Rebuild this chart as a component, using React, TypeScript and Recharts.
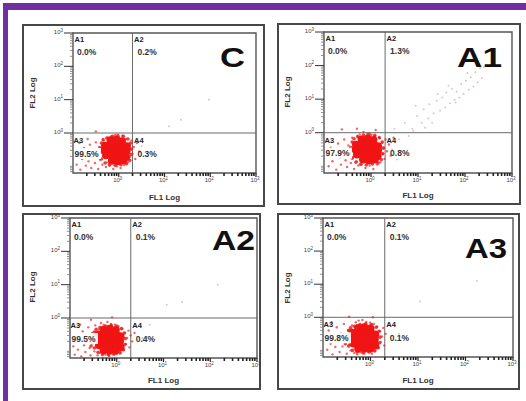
import { ScatterChart, Scatter, XAxis, YAxis, ReferenceLine, ReferenceArea } from 'recharts';

type Pt = [number, number];

// all positions are log10 of fluorescence (FL1 on x, FL2 on y)
const panelTitles = ['C', 'A1', 'A2', 'A3'];
const quadrantNames = ['A1', 'A2', 'A3', 'A4'];
const quadrantPercents = [
  ['0.0%', '0.2%', '99.5%', '0.3%'],
  ['0.0%', '1.3%', '97.9%', '0.8%'],
  ['0.0%', '0.1%', '99.5%', '0.4%'],
  ['0.0%', '0.1%', '99.8%', '0.1%'],
];
const decadeTicks = [0, 1, 2, 3];
const minorSteps = [2, 3, 4, 5, 6, 7, 8, 9];

const X_DOMAIN = [-1, 3];
const Y_DOMAIN = [-1.2, 3];
const GATE_X = 0.3;
const GATE_Y = 0;

// --- panel C ---
const coreC: Pt[] = [
  [-0.18, -0.22], [-0.05, -0.2], [0.07, -0.25],
  [-0.3, -0.38], [-0.17, -0.36], [-0.05, -0.35], [0.08, -0.38], [0.18, -0.4],
  [-0.32, -0.52], [-0.2, -0.5], [-0.07, -0.5], [0.06, -0.52], [0.17, -0.55],
  [-0.28, -0.67], [-0.16, -0.66], [-0.04, -0.68], [0.08, -0.67], [0.16, -0.72],
  [-0.15, -0.83], [-0.02, -0.85], [0.1, -0.82],
];
const fringeC: Pt[] = [
  [-0.38, -0.3], [-0.4, -0.45], [-0.42, -0.6], [-0.38, -0.78], [-0.3, -0.9], [-0.2, -0.95],
  [-0.08, -0.97], [0.05, -0.95], [0.17, -0.92], [0.24, -0.82], [0.27, -0.65], [0.28, -0.48],
  [0.26, -0.3], [0.2, -0.18], [0.1, -0.1], [-0.02, -0.08], [-0.14, -0.1], [-0.26, -0.15],
  [-0.34, -0.2], [-0.45, -0.7],
];
const haloC: Pt[] = [
  [-0.92, -0.95], [-0.88, -0.62], [-0.84, -1.1], [-0.8, -0.78], [-0.76, -0.45], [-0.72, -0.98],
  [-0.7, -0.62], [-0.66, -0.85], [-0.63, -0.35], [-0.6, -1.05], [-0.58, -0.72], [-0.55, -0.52],
  [-0.52, -0.9], [-0.5, -0.28], [-0.48, -0.66], [-0.45, -1.08], [-0.43, -0.42], [-0.41, -0.8],
  [-0.38, -0.58], [-0.36, -0.95], [-0.34, -0.22], [-0.32, -0.72], [-0.3, -0.38], [-0.28, -1.02],
  [-0.26, -0.88], [-0.24, -0.14], [-0.2, -0.98], [-0.16, -0.1], [-0.12, -1.08], [-0.08, -0.06],
  [-0.04, -1.0], [0.0, -0.12], [0.04, -1.05], [0.08, -0.08], [0.12, -0.96], [0.16, -0.18],
  [0.2, -0.88], [0.22, -0.35], [0.24, -0.72], [0.26, -0.5], [0.28, -0.22], [0.3, -0.62],
  [0.33, -0.42], [0.36, -0.78], [0.4, -0.3], [-0.86, -0.3], [-0.68, -0.18], [-0.5, 0.05], [0.45, -0.55],
];
const sparseC: Pt[] = [[1.36, 0.4], [1.97, 1.0], [0.5, -0.4], [0.6, -0.7], [1.1, 0.2]];

// --- panel A1 ---
const coreA1: Pt[] = [
  [-0.2, -0.2], [-0.07, -0.18], [0.05, -0.22],
  [-0.32, -0.36], [-0.19, -0.35], [-0.07, -0.34], [0.06, -0.36], [0.15, -0.4],
  [-0.33, -0.5], [-0.21, -0.5], [-0.09, -0.49], [0.04, -0.5], [0.15, -0.53],
  [-0.3, -0.65], [-0.18, -0.64], [-0.06, -0.66], [0.06, -0.65], [0.14, -0.7],
  [-0.17, -0.8], [-0.04, -0.83], [0.08, -0.8],
];
const fringeA1: Pt[] = [
  [-0.4, -0.28], [-0.43, -0.44], [-0.44, -0.6], [-0.4, -0.76], [-0.32, -0.88], [-0.22, -0.94],
  [-0.1, -0.96], [0.03, -0.93], [0.15, -0.9], [0.22, -0.8], [0.25, -0.63], [0.26, -0.46],
  [0.24, -0.28], [0.18, -0.15], [0.08, -0.08], [-0.04, -0.05], [-0.16, -0.07], [-0.28, -0.12],
  [-0.36, -0.18], [-0.47, -0.66],
];
const haloA1: Pt[] = [
  [-0.95, -0.7], [-0.9, -1.0], [-0.86, -0.45], [-0.82, -0.85], [-0.78, -0.6], [-0.74, -1.1],
  [-0.7, -0.32], [-0.67, -0.75], [-0.64, -0.95], [-0.6, -0.5], [-0.57, -0.2], [-0.54, -0.82],
  [-0.51, -1.02], [-0.48, -0.38], [-0.46, -0.62], [-0.43, -0.9], [-0.4, -0.15], [-0.38, -0.72],
  [-0.36, -1.08], [-0.34, -0.48], [-0.31, -0.85], [-0.29, -0.1], [-0.27, -0.98], [-0.24, -0.05],
  [-0.2, -0.95], [-0.16, 0.02], [-0.12, -1.05], [-0.08, -0.04], [-0.03, -0.98], [0.01, -0.06],
  [0.05, -1.08], [0.09, -0.1], [0.13, -0.95], [0.17, -0.14], [0.2, -0.88], [0.23, -0.3],
  [0.25, -0.62], [0.27, -0.45], [0.29, -0.78], [0.31, -0.2], [0.34, -0.55], [0.38, -0.35],
  [0.42, -0.68], [-0.62, 0.1], [-0.3, 0.12], [0.1, 0.08], [0.48, -0.15],
];
const sparseA1: Pt[] = [
  [0.5, 0.12], [0.72, 0.3], [0.88, 0.12], [0.98, 0.5], [1.08, 0.3], [1.12, 0.7], [1.22, 0.42],
  [1.24, 0.85], [1.33, 0.58], [1.4, 0.95], [1.47, 0.66], [1.52, 1.05], [1.58, 0.75], [1.6, 1.2],
  [1.68, 0.88], [1.72, 1.3], [1.78, 0.98], [1.82, 1.22], [1.88, 1.05], [1.92, 1.45], [1.97, 1.15],
  [2.02, 1.55], [2.08, 1.28], [2.12, 1.65], [2.18, 1.38], [2.22, 1.8], [2.27, 1.5], [2.32, 1.92],
  [2.36, 1.62], [1.3, 0.3], [0.95, 0.8], [1.65, 1.4], [2.05, 1.78], [0.6, -0.2], [0.8, -0.1],
  [0.45, -0.5], [0.9, 0.05], [0.55, -0.8], [1.15, 0.15], [1.42, 1.15], [1.8, 0.9], [2.4, 1.95],
];

// --- panel A2 ---
const coreA2: Pt[] = [
  [-0.28, -0.35], [-0.15, -0.32], [-0.02, -0.36],
  [-0.4, -0.5], [-0.27, -0.5], [-0.14, -0.48], [-0.01, -0.5], [0.08, -0.55],
  [-0.42, -0.66], [-0.3, -0.65], [-0.17, -0.64], [-0.04, -0.66], [0.07, -0.7],
  [-0.38, -0.82], [-0.26, -0.81], [-0.13, -0.8], [0.0, -0.83], [0.08, -0.88],
  [-0.28, -0.97], [-0.15, -0.98], [-0.02, -0.97],
];
const fringeA2: Pt[] = [
  [-0.48, -0.42], [-0.5, -0.58], [-0.52, -0.74], [-0.48, -0.9], [-0.4, -1.03], [-0.3, -1.08],
  [-0.18, -1.1], [-0.05, -1.08], [0.07, -1.05], [0.14, -0.95], [0.17, -0.8], [0.18, -0.62],
  [0.16, -0.45], [0.1, -0.32], [0.0, -0.24], [-0.12, -0.22], [-0.24, -0.24], [-0.36, -0.29],
  [-0.44, -0.34], [-0.55, -0.84],
];
const haloA2: Pt[] = [
  [-0.93, -0.85], [-0.9, -1.1], [-0.87, -0.55], [-0.83, -0.95], [-0.79, -0.7], [-0.76, -1.15],
  [-0.73, -0.4], [-0.7, -0.82], [-0.67, -1.02], [-0.64, -0.58], [-0.61, -0.28], [-0.58, -0.9],
  [-0.56, -1.12], [-0.53, -0.45], [-0.5, -0.72], [-0.48, -1.0], [-0.46, -0.22], [-0.44, -0.85],
  [-0.41, -1.12], [-0.39, -0.35], [-0.36, -1.05], [-0.34, -0.15], [-0.31, -1.12], [-0.28, -0.2],
  [-0.24, -1.1], [-0.2, -0.12], [-0.16, -1.14], [-0.12, -0.18], [-0.08, -1.1], [-0.04, -0.2],
  [0.0, -1.08], [0.04, -0.25], [0.08, -1.02], [0.12, -0.32], [0.15, -0.95], [0.18, -0.45],
  [0.2, -0.78], [0.22, -0.6], [0.25, -0.38], [0.27, -0.88], [0.3, -0.52], [0.33, -0.7],
  [-0.78, -0.2], [-0.55, -0.05], [-0.1, 0.02], [0.38, -0.45],
];
const sparseA2: Pt[] = [[1.07, 0.4], [1.4, 0.48], [2.16, 1.0], [0.7, -0.2], [0.55, -0.6]];

// --- panel A3 ---
const coreA3: Pt[] = [
  [-0.26, -0.32], [-0.13, -0.3], [0.0, -0.34],
  [-0.38, -0.47], [-0.25, -0.47], [-0.12, -0.46], [0.01, -0.48], [0.1, -0.52],
  [-0.4, -0.63], [-0.28, -0.62], [-0.15, -0.61], [-0.02, -0.63], [0.09, -0.67],
  [-0.36, -0.79], [-0.24, -0.78], [-0.11, -0.77], [0.02, -0.8], [0.1, -0.85],
  [-0.26, -0.94], [-0.13, -0.95], [0.0, -0.94],
];
const fringeA3: Pt[] = [
  [-0.46, -0.4], [-0.48, -0.55], [-0.5, -0.71], [-0.46, -0.87], [-0.38, -1.0], [-0.28, -1.05],
  [-0.16, -1.07], [-0.03, -1.05], [0.09, -1.02], [0.16, -0.92], [0.19, -0.77], [0.2, -0.6],
  [0.18, -0.42], [0.12, -0.3], [0.02, -0.22], [-0.1, -0.2], [-0.22, -0.22], [-0.34, -0.27],
  [-0.42, -0.32], [-0.53, -0.8],
];
const haloA3: Pt[] = [
  [-0.94, -0.6], [-0.91, -0.98], [-0.88, -0.4], [-0.84, -0.8], [-0.8, -1.12], [-0.77, -0.55],
  [-0.74, -0.9], [-0.71, -0.3], [-0.68, -0.72], [-0.65, -1.05], [-0.62, -0.48], [-0.59, -0.88],
  [-0.56, -0.2], [-0.53, -0.65], [-0.5, -1.1], [-0.47, -0.38], [-0.45, -0.82], [-0.42, -1.0],
  [-0.39, -0.25], [-0.37, -0.7], [-0.34, -1.08], [-0.31, -0.15], [-0.28, -1.12], [-0.25, -0.1],
  [-0.21, -1.06], [-0.17, -0.08], [-0.13, -1.1], [-0.09, -0.14], [-0.05, -1.05], [-0.01, -0.16],
  [0.03, -1.1], [0.07, -0.2], [0.1, -1.0], [0.14, -0.28], [0.17, -0.92], [0.2, -0.42],
  [0.22, -0.75], [0.24, -0.58], [0.27, -0.32], [0.29, -0.85], [0.32, -0.5], [-0.82, -0.15],
  [-0.45, 0.02], [0.05, 0.0],
];
const sparseA3: Pt[] = [[1.04, 0.48], [2.24, 1.1], [0.6, -0.5]];

const panelCores = [coreC, coreA1, coreA2, coreA3];
const panelFringes = [fringeC, fringeA1, fringeA2, fringeA3];
const panelHalos = [haloC, haloA1, haloA2, haloA3];
const panelSparse = [sparseC, sparseA1, sparseA2, sparseA3];

// page layout of the four boxes (pixels)
const LAYOUT = [
  { box: { x: 22, y: 24, w: 243, h: 183 }, plot: { x: 73, y: 33, w: 183, h: 140 }, title: { right: 245, base: 67, len: 25 }, fl2Y: 93 },
  { box: { x: 277, y: 23, w: 244, h: 182 }, plot: { x: 324, y: 32, w: 188, h: 141 }, title: { right: 502, base: 67, len: 45 }, fl2Y: 92 },
  { box: { x: 22, y: 213, w: 239, h: 177 }, plot: { x: 70, y: 218, w: 187, h: 140 }, title: { right: 255, base: 250, len: 43 }, fl2Y: 287 },
  { box: { x: 277, y: 213, w: 243, h: 177 }, plot: { x: 323, y: 218, w: 190, h: 139 }, title: { right: 507, base: 258, len: 42 }, fl2Y: 288 },
];

const FONT = "'Liberation Sans', Arial, sans-serif";
const Y_AXIS_W = 20;
const X_AXIS_H = 14;

const xTicks = [
  ...decadeTicks,
  ...[-1, 0, 1, 2].flatMap((d) => minorSteps.map((k) => d + Math.log10(k))),
];
const yTicks = [
  ...decadeTicks,
  -1,
  ...[-2, -1, 0, 1, 2]
    .flatMap((d) => minorSteps.map((k) => d + Math.log10(k)))
    .filter((v) => v >= Y_DOMAIN[0]),
];

const isMajor = (v: number) => decadeTicks.includes(v);
const toPts = (pts: Pt[]) => pts.map(([x, y]) => ({ x, y }));

const coreDot = (p: any) => <circle cx={p.cx} cy={p.cy} r={4} fill="#f01414" />;
const fringeDot = (p: any) => <circle cx={p.cx} cy={p.cy} r={1.8} fill="#ee1c1c" fillOpacity={0.85} />;
const haloDot = (p: any) => <circle cx={p.cx} cy={p.cy} r={1.2} fill="#e32a2a" fillOpacity={0.7} />;
const sparseDot = (p: any) => <circle cx={p.cx} cy={p.cy} r={1} fill="#c47a7a" fillOpacity={0.45} />;

function Panel({ i }: { i: number }) {
  const { box, plot } = LAYOUT[i];
  const left = plot.x - box.x;
  const top = plot.y - box.y;
  const right = box.x + box.w - (plot.x + plot.w);
  const bottom = box.y + box.h - (plot.y + plot.h);
  const axisY = top + plot.h;

  const xTick = (p: any) => {
    const v = p.payload.value;
    const major = isMajor(v);
    return (
      <g>
        <line x1={p.x} x2={p.x} y1={axisY} y2={axisY + (major ? 4 : 3)} stroke="#222" strokeWidth={major ? 1.2 : 1.6} />
        {major && (
          <text x={p.x - 1} y={axisY + 9} fontSize={6} fill="#444" textAnchor="middle" fontFamily={FONT}>
            10<tspan dy={-2.5} fontSize={4.5}>{v}</tspan>
          </text>
        )}
      </g>
    );
  };

  const yTick = (p: any) => {
    const v = p.payload.value;
    const major = isMajor(v);
    return (
      <g>
        <line x1={left - (major ? 9 : 3)} x2={left} y1={p.y} y2={p.y} stroke={major ? '#333' : '#777'} strokeWidth={major ? 1 : 0.8} />
        {major && (
          <text x={left - 10} y={p.y + 1} fontSize={6} fill="#444" textAnchor="end" fontFamily={FONT}>
            10<tspan dy={-2.5} fontSize={4.5}>{v}</tspan>
          </text>
        )}
      </g>
    );
  };

  return (
    <>
      <div
        style={{
          position: 'absolute', left: box.x, top: box.y, width: box.w, height: box.h,
          border: '2px solid #474747', boxSizing: 'border-box', background: '#fff',
        }}
      />
      <div style={{ position: 'absolute', left: box.x, top: box.y, width: box.w, height: box.h }}>
        <ScatterChart
          width={box.w}
          height={box.h}
          margin={{ left: left - Y_AXIS_W, top, right, bottom: bottom - X_AXIS_H }}
        >
          <XAxis
            type="number" dataKey="x" domain={X_DOMAIN} allowDataOverflow ticks={xTicks} interval={0}
            tickSize={0} tickMargin={0} axisLine={false} tickLine={false} height={X_AXIS_H} tick={xTick}
          />
          <YAxis
            type="number" dataKey="y" domain={Y_DOMAIN} allowDataOverflow ticks={yTicks} interval={0}
            tickSize={0} tickMargin={0} axisLine={false} tickLine={false} width={Y_AXIS_W} tick={yTick}
          />
          <Scatter data={toPts(panelSparse[i])} shape={sparseDot} isAnimationActive={false} />
          <Scatter data={toPts(panelHalos[i])} shape={haloDot} isAnimationActive={false} />
          <Scatter data={toPts(panelFringes[i])} shape={fringeDot} isAnimationActive={false} />
          <Scatter data={toPts(panelCores[i])} shape={coreDot} isAnimationActive={false} />
          <ReferenceLine x={GATE_X} stroke="#6a6a6a" strokeWidth={1} />
          <ReferenceLine y={GATE_Y} stroke="#6a6a6a" strokeWidth={1} />
          <ReferenceArea
            x1={X_DOMAIN[0]} x2={X_DOMAIN[1]} y1={Y_DOMAIN[0]} y2={Y_DOMAIN[1]}
            fill="none" fillOpacity={0} stroke="#555" strokeWidth={1.4} ifOverflow="visible"
          />
        </ScatterChart>
      </div>
    </>
  );
}

function PanelText({ i }: { i: number }) {
  const { box, plot, title, fl2Y } = LAYOUT[i];
  const gx = plot.x + ((GATE_X - X_DOMAIN[0]) / (X_DOMAIN[1] - X_DOMAIN[0])) * plot.w;
  const gy = plot.y + ((Y_DOMAIN[1] - GATE_Y) / (Y_DOMAIN[1] - Y_DOMAIN[0])) * plot.h;
  const pcts = quadrantPercents[i];
  return (
    <g fontFamily={FONT} fontWeight="bold">
      <text x={plot.x + 1.5} y={plot.y + 9} fontSize={7.5} fill="#222">{quadrantNames[0]}</text>
      <text x={plot.x + 4} y={plot.y + 22} fontSize={8.5} fill="#333">{pcts[0]}</text>
      <text x={gx + 1.5} y={plot.y + 9} fontSize={7.5} fill="#222">{quadrantNames[1]}</text>
      <text x={gx + 5} y={plot.y + 22} fontSize={8.5} fill="#333">{pcts[1]}</text>
      <rect x={plot.x + 1} y={gy + 15} width={27} height={11} fill="#fff" fillOpacity={0.92} />
      <text x={plot.x + 0.5} y={gy + 10} fontSize={7.5} fill="#222">{quadrantNames[2]}</text>
      <text x={plot.x + 1.5} y={gy + 23.5} fontSize={8.5} fill="#333">{pcts[2]}</text>
      <text x={gx + 1.5} y={gy + 10} fontSize={7.5} fill="#222">{quadrantNames[3]}</text>
      <text x={gx + 5} y={gy + 23.5} fontSize={8.5} fill="#333">{pcts[3]}</text>
      <text
        x={title.right} y={title.base} textAnchor="end" fontSize={27} fill="#111"
        textLength={title.len} lengthAdjust="spacingAndGlyphs"
      >
        {panelTitles[i]}
      </text>
      <text x={plot.x + plot.w / 2} y={box.y + box.h - 7} textAnchor="middle" fontSize={8} fill="#333">FL1 Log</text>
      <text transform={`translate(${box.x + 13},${fl2Y}) rotate(-90)`} textAnchor="middle" fontSize={8} fill="#333">
        FL2 Log
      </text>
    </g>
  );
}

export default function App() {
  return (
    <div style={{ position: 'absolute', left: 0, top: 0, width: 526, height: 401, background: '#fff', overflow: 'hidden' }}>
      {[0, 1, 2, 3].map((i) => (
        <Panel key={i} i={i} />
      ))}
      <svg width={526} height={401} style={{ position: 'absolute', left: 0, top: 0, pointerEvents: 'none' }}>
        <rect x={3} y={3} width={523} height={7} fill="#7030a0" />
        <rect x={3} y={3} width={5} height={398} fill="#7030a0" />
        {[0, 1, 2, 3].map((i) => (
          <PanelText key={i} i={i} />
        ))}
      </svg>
    </div>
  );
}
